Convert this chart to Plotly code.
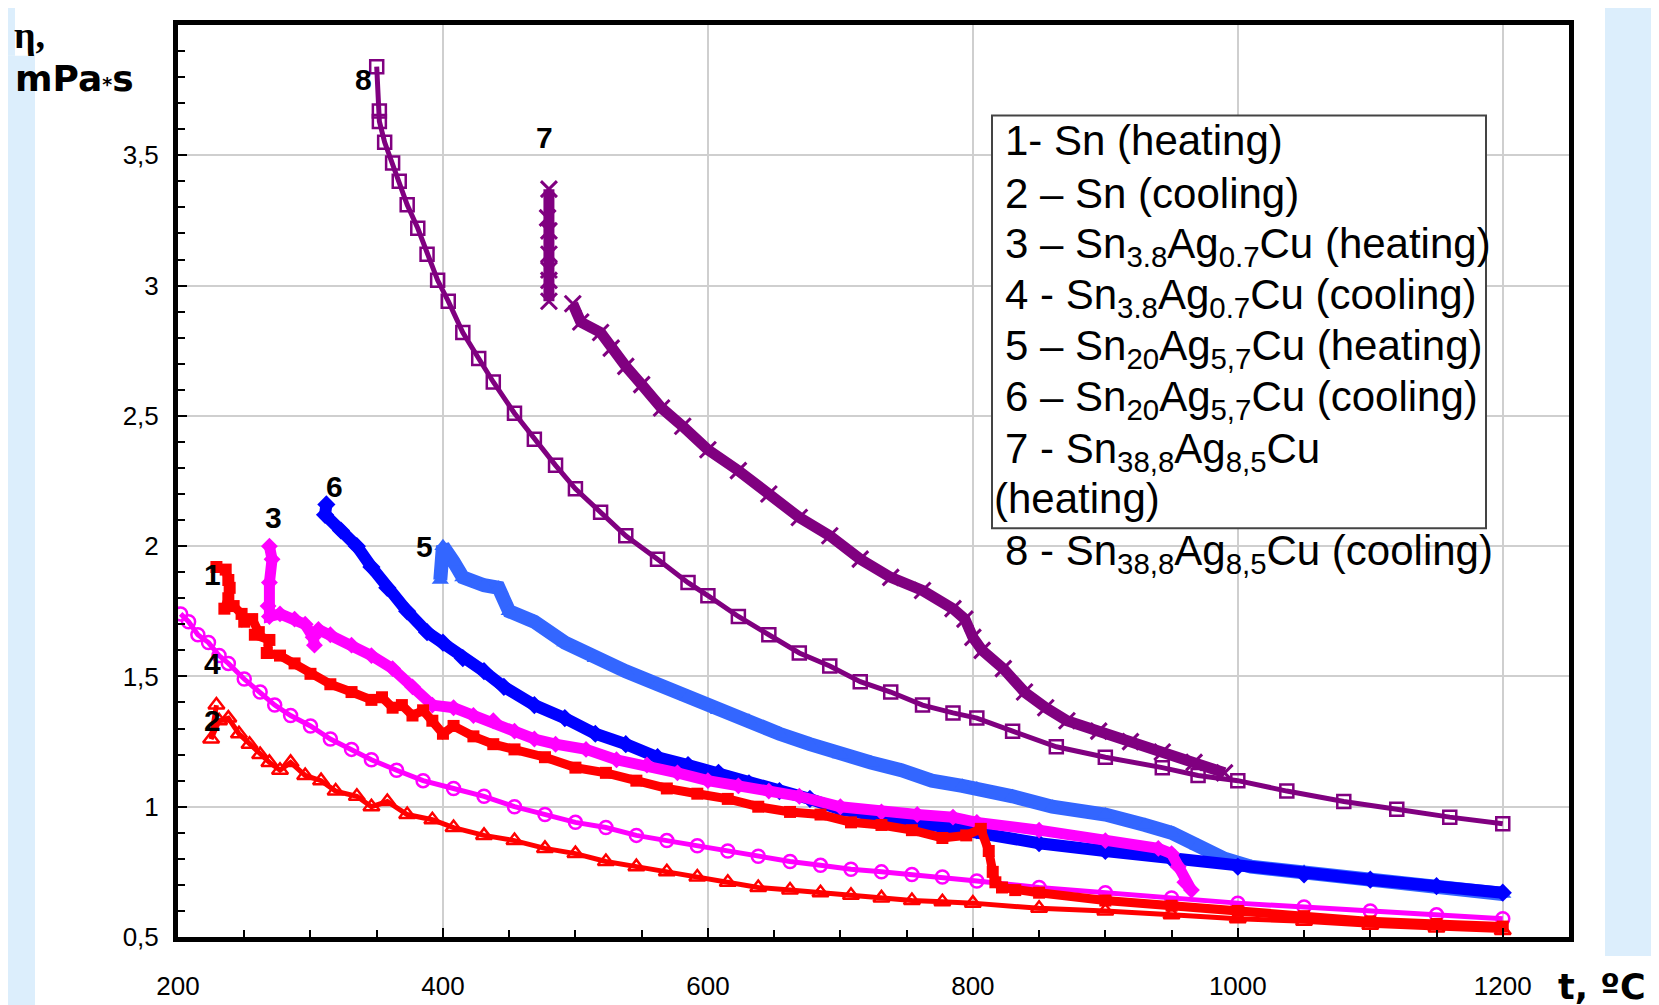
import plotly.graph_objects as go

# ---------------- data ----------------
# 1 - Sn (heating)
T1 = [229, 236, 238, 239, 238, 235, 242, 248, 250, 256, 261, 258, 269, 267, 277, 288, 300, 315, 331, 346,
      354, 362, 369, 377, 385, 392, 400, 408, 423, 438, 454, 477, 500, 523, 546, 569, 592, 615, 638, 662,
      685, 708, 731, 754, 777, 795, 806, 812, 815, 817, 822, 832, 850, 900, 950, 1000, 1050, 1100, 1150, 1200]
E1 = [1.92, 1.91, 1.87, 1.84, 1.80, 1.76, 1.77, 1.74, 1.71, 1.72, 1.67, 1.66, 1.64, 1.59, 1.58, 1.55, 1.51, 1.47, 1.44, 1.41,
      1.42, 1.38, 1.39, 1.35, 1.37, 1.33, 1.28, 1.31, 1.27, 1.24, 1.22, 1.19, 1.15, 1.13, 1.10, 1.07, 1.05, 1.03, 1.00, 0.98,
      0.97, 0.94, 0.93, 0.91, 0.88, 0.89, 0.915, 0.83, 0.75, 0.71, 0.69, 0.68, 0.67, 0.64, 0.62, 0.60, 0.58, 0.56, 0.55, 0.54]

# 2 - Sn (cooling)
T2 = [229, 225, 231, 238, 246, 254, 262, 269, 277, 285, 296, 308, 319, 335, 346, 358, 373, 392, 408, 431, 454,
      477, 500, 523, 546, 569, 592, 615, 638, 662, 685, 708, 731, 754, 777, 800, 850, 900, 950, 1000, 1050,
      1100, 1150, 1200]
E2 = [1.39, 1.26, 1.33, 1.34, 1.28, 1.24, 1.20, 1.17, 1.14, 1.17, 1.12, 1.10, 1.06, 1.04, 1.00, 1.02, 0.97, 0.95, 0.92, 0.89, 0.87,
      0.84, 0.82, 0.79, 0.77, 0.75, 0.73, 0.71, 0.69, 0.68, 0.67, 0.66, 0.65, 0.64, 0.635, 0.63, 0.61, 0.60, 0.585, 0.57, 0.56,
      0.545, 0.535, 0.525]

# 3 - Sn3.8Ag0.7Cu (heating)
T3 = [269, 271, 269, 268, 269, 277, 288, 296, 302, 303, None, 306, 315, 331, 346, 362, 377, 392, 408, 423, 438,
      454, 469, 485, 508, 531, 554, 577, 600, 623, 646, 669, 700, 731, 758, 785, 803, 850, 900, 940, 950,
      955, 960, 965]
E3 = [2.00, 1.95, 1.86, 1.77, 1.73, 1.74, 1.72, 1.70, 1.65, 1.62, None, 1.68, 1.66, 1.62, 1.58, 1.53, 1.46, 1.39, 1.38, 1.35, 1.33,
      1.29, 1.26, 1.24, 1.22, 1.18, 1.16, 1.13, 1.10, 1.08, 1.06, 1.04, 1.00, 0.98, 0.97, 0.96, 0.94, 0.91, 0.87, 0.84, 0.82,
      0.77, 0.71, 0.68]

# 4 - Sn3.8Ag0.7Cu (cooling)
T4 = [202, 208, 215, 223, 231, 238, 250, 262, 273, 285, 300, 315, 331, 346, 365, 385, 408, 431, 454, 477, 500,
      523, 546, 569, 592, 615, 638, 662, 685, 708, 731, 754, 777, 803, 850, 900, 950, 1000, 1050, 1100, 1150, 1200]
E4 = [1.74, 1.71, 1.66, 1.63, 1.58, 1.55, 1.49, 1.44, 1.39, 1.35, 1.31, 1.26, 1.22, 1.18, 1.14, 1.10, 1.07, 1.04, 1.00, 0.97, 0.94,
      0.92, 0.89, 0.87, 0.85, 0.83, 0.81, 0.79, 0.775, 0.76, 0.75, 0.74, 0.73, 0.715, 0.69, 0.67, 0.65, 0.63, 0.615, 0.60, 0.585, 0.57]

# 5 - Sn20Ag5,7Cu (heating)
T5 = [398, 400, 408, 415, 431, 442, 450, 469, 492, 515, 538, 562, 585, 608, 631, 654, 677, 700, 723, 746, 769,
      792, 803, 830, 860, 900, 930, 950, 970, 990, 1010, 1050, 1100, 1150, 1200]
E5 = [1.87, 2.00, 1.94, 1.88, 1.85, 1.84, 1.75, 1.71, 1.63, 1.57, 1.52, 1.47, 1.42, 1.37, 1.33, 1.28, 1.24, 1.20, 1.17, 1.14, 1.10,
      1.08, 1.07, 1.04, 1.00, 0.97, 0.93, 0.90, 0.85, 0.80, 0.77, 0.75, 0.72, 0.69, 0.665]

# 6 - Sn20Ag5,7Cu (cooling)
T6 = [312, 311, 323, 335, 346, 358, 373, 388, 400, 415, 431, 446, 469, 492, 515, 538, 562, 585, 608, 631, 654,
      677, 700, 723, 746, 769, 803, 850, 900, 950, 1000, 1050, 1100, 1150, 1200]
E6 = [2.16, 2.12, 2.06, 2.00, 1.92, 1.84, 1.75, 1.67, 1.63, 1.57, 1.52, 1.46, 1.39, 1.34, 1.28, 1.24, 1.19, 1.16, 1.13, 1.09, 1.06,
      1.03, 0.99, 0.97, 0.95, 0.93, 0.91, 0.86, 0.83, 0.80, 0.77, 0.74, 0.72, 0.695, 0.67]

# 7 - Sn38,8Ag8,5Cu (heating)
T7 = [480, 479, 480, 480, 480, 480, 480, None, 498, 504, 519, 527, 538, 550, 565, 581, 600, 623, 646, 669, 692,
      715, 738, 762, 785, 794, 800, 807, 823, 839, 855, 871, 895, 919, 943, 967, 990]
E7 = [3.37, 3.26, 3.21, 3.12, 3.06, 3.02, 2.94, None, 2.93, 2.86, 2.82, 2.76, 2.69, 2.62, 2.53, 2.46, 2.37, 2.29, 2.20, 2.11, 2.04,
      1.95, 1.88, 1.83, 1.76, 1.72, 1.65, 1.60, 1.53, 1.44, 1.38, 1.33, 1.29, 1.25, 1.21, 1.17, 1.13]

# 8 - Sn38,8Ag8,5Cu (cooling)
T8 = [350, 352, 352, 356, 362, 367, 373, 381, 388, 396, 404, 415, 427, 438, 454, 469, 485, 500, 519, 538, 562,
      585, 600, 623, 646, 669, 692, 715, 738, 762, 785, 803, 830, 863, 900, 943, 970, 1000, 1037, 1080, 1120, 1160, 1200]
E8 = [3.84, 3.67, 3.63, 3.55, 3.47, 3.40, 3.31, 3.22, 3.12, 3.02, 2.94, 2.82, 2.72, 2.63, 2.51, 2.41, 2.31, 2.22, 2.13, 2.04, 1.95,
      1.86, 1.81, 1.73, 1.66, 1.59, 1.54, 1.48, 1.44, 1.39, 1.36, 1.34, 1.29, 1.23, 1.19, 1.15, 1.12, 1.10, 1.06, 1.02, 0.99, 0.96, 0.935]

x_ticks = [200, 400, 600, 800, 1000, 1200]
y_ticks = [0.5, 1.0, 1.5, 2.0, 2.5, 3.0, 3.5]
y_ticktext = ["0,5", "1", "1,5", "2", "2,5", "3", "3,5"]

legend_lines = [
    "1- Sn (heating)",
    "2 – Sn (cooling)",
    "3 – Sn<sub>3.8</sub>Ag<sub>0.7</sub>Cu (heating)",
    "4 - Sn<sub>3.8</sub>Ag<sub>0.7</sub>Cu (cooling)",
    "5 – Sn<sub>20</sub>Ag<sub>5,7</sub>Cu (heating)",
    "6 – Sn<sub>20</sub>Ag<sub>5,7</sub>Cu (cooling)",
    "7 - Sn<sub>38,8</sub>Ag<sub>8,5</sub>Cu",
    "(heating)",
    "8 - Sn<sub>38,8</sub>Ag<sub>8,5</sub>Cu (cooling)",
]

curve_labels = ["1", "2", "3", "4", "5", "6", "7", "8"]
curve_label_x = [226, 226, 272, 226, 386, 318, 477, 340]
curve_label_y = [1.89, 1.33, 2.11, 1.55, 2.00, 2.23, 3.57, 3.79]

# ---------------- figure ----------------
W, H = 1659, 1005
OFF = 8  # page body margin offset
ML, MR, MT, MB = 178 - OFF, 1659 - (1569 - OFF), 21 - OFF, 1005 - (938 - OFF)
PW, PH = W - ML - MR, H - MT - MB


def px2x(px):
    return (px - OFF - ML) / PW


def px2y(py):
    return 1 - (py - OFF - MT) / PH


RED = "#FF0000"
MAG = "#FF00FF"
BLUE = "#0000FF"
LBLUE = "#3366FF"
PURP = "#800080"

fig = go.Figure()

series = [
    (T5, E5, LBLUE, 14, dict(symbol="triangle-up", size=15, color=LBLUE)),
    (T6, E6, BLUE, 12, dict(symbol="diamond", size=14, color=BLUE)),
    (T8, E8, PURP, 5, dict(symbol="square-open", size=13, color=PURP, line=dict(width=2.5, color=PURP))),
    (T7, E7, PURP, 11, dict(symbol="x-thin-open", size=16, color=PURP, line=dict(width=3, color=PURP))),
    (T3, E3, MAG, 11, dict(symbol="diamond", size=13, color=MAG)),
    (T4, E4, MAG, 5, dict(symbol="circle-open", size=13, color=MAG, line=dict(width=2.5, color=MAG))),
    (T2, E2, RED, 5, dict(symbol="triangle-up-open", size=14, color=RED, line=dict(width=2.5, color=RED))),
    (T1, E1, RED, 9, dict(symbol="square", size=12, color=RED)),
]
for tx, ey, col, lw, mk in series:
    fig.add_trace(go.Scatter(x=tx, y=ey, mode="lines+markers",
                             line=dict(color=col, width=lw), marker=mk,
                             showlegend=False, hoverinfo="skip"))

annotations = []
# curve number labels
for lab, lx, ly in zip(curve_labels, curve_label_x, curve_label_y):
    annotations.append(dict(x=lx, y=ly, xref="x", yref="y", text="<b>" + lab + "</b>",
                            showarrow=False, font=dict(family="Liberation Sans", size=30, color="black")))

# legend text lines
baselines = [151, 204, 254, 305, 357, 408, 460, 510, 563]
lefts = [1003, 1003, 1003, 1003, 1003, 1003, 1003, 992, 1003]
LF = 42
for txt, bl, lx in zip(legend_lines, baselines, lefts):
    annotations.append(dict(x=px2x(lx), y=px2y(bl - 0.905 * LF - 1), xref="paper", yref="paper",
                            xanchor="left", yanchor="top", text=txt, showarrow=False,
                            font=dict(family="Liberation Sans", size=LF, color="black")))

# axis titles
annotations.append(dict(x=px2x(12), y=px2y(8), xref="paper", yref="paper", xanchor="left", yanchor="top",
                        text="<b>η,</b>", showarrow=False,
                        font=dict(family="Liberation Serif", size=38, color="black")))
annotations.append(dict(x=px2x(13), y=px2y(52), xref="paper", yref="paper", xanchor="left", yanchor="top",
                        text="<b>mPa<span style='font-size:19px'>*</span>s</b>", showarrow=False,
                        font=dict(family="DejaVu Sans", size=36, color="black")))
annotations.append(dict(x=px2x(1556), y=px2y(966), xref="paper", yref="paper", xanchor="left", yanchor="top",
                        text="<b>t, ºC</b>", showarrow=False,
                        font=dict(family="DejaVu Sans", size=35, color="black")))

shapes = [
    # slide background strips
    dict(type="rect", xref="paper", yref="paper", x0=px2x(0), x1=px2x(35), y0=px2y(1010), y1=px2y(52),
         fillcolor="#DCEEFC", line=dict(width=0), layer="below"),
    dict(type="rect", xref="paper", yref="paper", x0=px2x(0), x1=px2x(15), y0=px2y(52), y1=px2y(0),
         fillcolor="#DCEEFC", line=dict(width=0), layer="below"),
    dict(type="rect", xref="paper", yref="paper", x0=px2x(1605), x1=px2x(1670), y0=px2y(957), y1=px2y(0),
         fillcolor="#DCEEFC", line=dict(width=0), layer="below"),
    # legend frame
    dict(type="rect", xref="paper", yref="paper", x0=px2x(992), x1=px2x(1486), y0=px2y(527), y1=px2y(112),
         fillcolor="white", line=dict(width=2, color="#444444"), layer="above"),
]

axis_common = dict(showline=True, linewidth=5, linecolor="black", mirror=True,
                   ticks="inside", ticklen=9, tickwidth=2, tickcolor="black",
                   showgrid=True, gridcolor="#CFCFCF", gridwidth=1.5, zeroline=False,
                   tickfont=dict(family="Liberation Sans", size=26, color="black"))

fig.update_layout(
    width=W, height=H,
    margin=dict(l=ML, r=MR, t=MT, b=MB),
    paper_bgcolor="white", plot_bgcolor="white",
    showlegend=False,
    xaxis=dict(range=[200, 1250], tickmode="array", tickvals=x_ticks,
               ticklabelstandoff=22,
               minor=dict(tickmode="linear", tick0=200, dtick=50, ticks="inside", ticklen=7,
                          tickwidth=1.5, tickcolor="black", showgrid=False),
               **axis_common),
    yaxis=dict(range=[0.5, 4.0], tickmode="array", tickvals=y_ticks, ticktext=y_ticktext,
               ticklabelstandoff=9,
               minor=dict(tickmode="linear", tick0=0.5, dtick=0.1, ticks="inside", ticklen=7,
                          tickwidth=1.5, tickcolor="black", showgrid=False),
               **axis_common),
    annotations=annotations,
    shapes=shapes,
)

fig.write_html("out.html")
